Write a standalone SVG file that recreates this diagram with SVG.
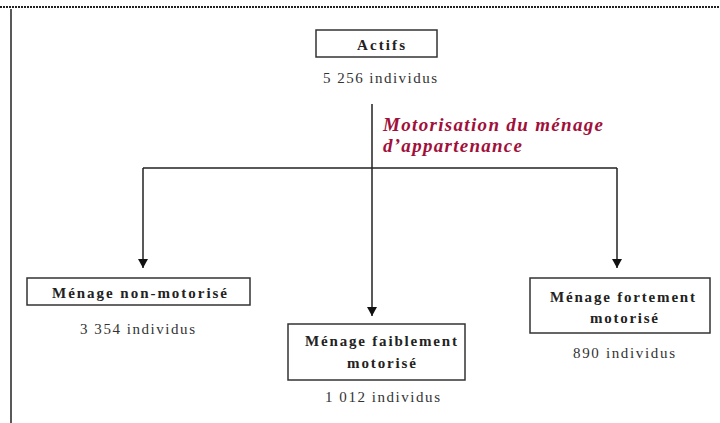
<svg xmlns="http://www.w3.org/2000/svg" width="720" height="423" viewBox="0 0 720 423">
<style>
text{font-family:"Liberation Serif","Times New Roman","DejaVu Serif",serif}
.box{fill:#fff;stroke:#333;stroke-width:1.5}
.lbl{font-weight:bold;font-size:15px;fill:#222;text-anchor:middle}
.cnt{font-size:15px;fill:#333;text-anchor:middle}
.ln{stroke:#222;stroke-width:1.5;fill:none}
.crit{font-weight:bold;font-style:italic;font-size:19px;fill:#a0103a}
</style>
<defs>
<marker id="ah" viewBox="0 0 10 11" refX="10" refY="5.5" markerWidth="11" markerHeight="10" orient="auto" markerUnits="userSpaceOnUse">
<path d="M0,0 L10,5.5 L0,11 z" fill="#111"/>
</marker>
</defs>
<rect width="720" height="423" fill="#fff"/>
<line x1="0" y1="7" x2="720" y2="7" stroke="#222" stroke-width="2" stroke-dasharray="2,1"/>
<line x1="11" y1="9" x2="11" y2="423" stroke="#222" stroke-width="1.5"/>
<g id="connectors">
<line class="ln" x1="372" y1="104" x2="372" y2="316" marker-end="url(#ah)"/>
<line class="ln" x1="143" y1="168" x2="617" y2="168"/>
<line class="ln" x1="143" y1="168" x2="143" y2="268" marker-end="url(#ah)"/>
<line class="ln" x1="617" y1="168" x2="617" y2="268" marker-end="url(#ah)"/>
<text class="crit" x="383" y="131" textLength="220" lengthAdjust="spacing">Motorisation du ménage</text>
<text class="crit" x="383" y="152" textLength="139" lengthAdjust="spacing">d’appartenance</text>
</g>
<g id="actifs">
<rect class="box" x="316" y="30" width="121" height="27"/>
<text class="lbl" x="381" y="50" textLength="48" lengthAdjust="spacing">Actifs</text>
<text class="cnt" x="380" y="83" textLength="114" lengthAdjust="spacing">5 256 individus</text>
</g>
<g id="non-motorise">
<rect class="box" x="27" y="278" width="223" height="27"/>
<text class="lbl" x="139.5" y="298" textLength="175" lengthAdjust="spacing">Ménage non-motorisé</text>
<text class="cnt" x="137.5" y="334" textLength="115" lengthAdjust="spacing">3 354 individus</text>
</g>
<g id="faiblement">
<rect class="box" x="288" y="324" width="177" height="56"/>
<text class="lbl" x="381" y="346" textLength="152" lengthAdjust="spacing">Ménage faiblement</text>
<text class="lbl" x="381.5" y="368" textLength="69" lengthAdjust="spacing">motorisé</text>
<text class="cnt" x="382.5" y="402" textLength="115" lengthAdjust="spacing">1 012 individus</text>
</g>
<g id="fortement">
<rect class="box" x="530" y="278" width="180" height="55"/>
<text class="lbl" x="622.5" y="302" textLength="145" lengthAdjust="spacing">Ménage fortement</text>
<text class="lbl" x="624" y="323" textLength="68" lengthAdjust="spacing">motorisé</text>
<text class="cnt" x="624" y="358" textLength="102" lengthAdjust="spacing">890 individus</text>
</g>
</svg>
